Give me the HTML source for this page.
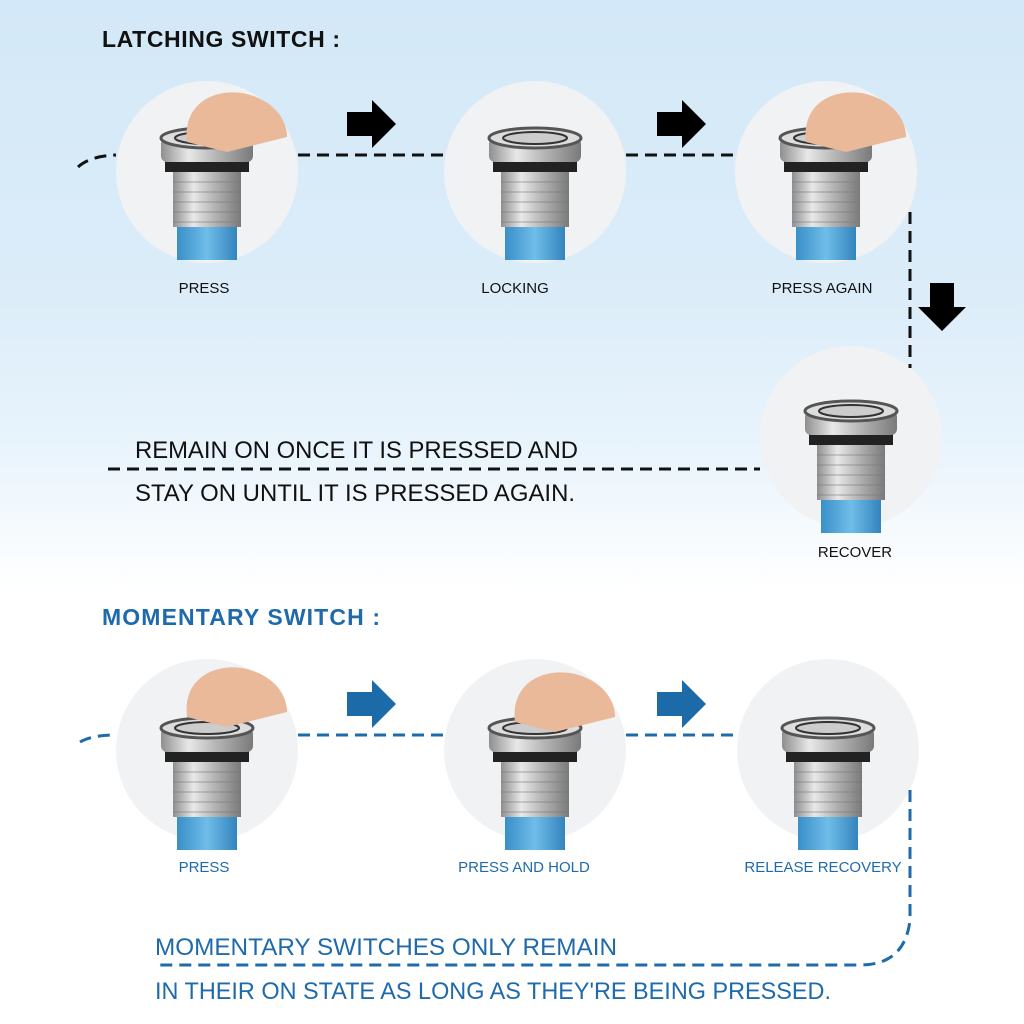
<!DOCTYPE html>
<html><head><meta charset="utf-8"><style>
html,body{margin:0;padding:0}
body{width:1024px;height:1024px;overflow:hidden;background:linear-gradient(#d3e8f8 0px,#dcedf9 300px,#e9f4fc 450px,#ffffff 590px,#ffffff 1024px);font-family:"Liberation Sans",sans-serif;position:relative}
svg{position:absolute;left:0;top:0}
</style></head><body>
<svg width="1024" height="1024" viewBox="0 0 1024 1024">
<defs>
<linearGradient id="metal" x1="0" x2="1"><stop offset="0" stop-color="#8f8f8f"/><stop offset=".3" stop-color="#e8e8e8"/><stop offset=".6" stop-color="#b5b5b5"/><stop offset="1" stop-color="#7a7a7a"/></linearGradient>
<linearGradient id="blue" x1="0" x2="1"><stop offset="0" stop-color="#3a8fc8"/><stop offset=".5" stop-color="#6fbde9"/><stop offset="1" stop-color="#3384bd"/></linearGradient>
<g id="sw">
<rect x="-30" y="40" width="60" height="38" fill="url(#blue)"/>
<rect x="-34" y="-10" width="68" height="55" fill="url(#metal)"/>
<g stroke="#777" stroke-width="1" opacity=".6"><line x1="-34" y1="0" x2="34" y2="0"/><line x1="-34" y1="10" x2="34" y2="10"/><line x1="-34" y1="20" x2="34" y2="20"/><line x1="-34" y1="30" x2="34" y2="30"/><line x1="-34" y1="40" x2="34" y2="40"/></g>
<rect x="-42" y="-22" width="84" height="12" fill="#222"/>
<rect x="-46" y="-44" width="92" height="24" rx="6" fill="url(#metal)"/>
<ellipse cx="0" cy="-44" rx="46" ry="10" fill="#ddd" stroke="#555" stroke-width="3"/>
<ellipse cx="0" cy="-44" rx="32" ry="6" fill="#ccc" stroke="#333" stroke-width="2"/>
</g>
<g id="finger"><path d="M-20,-40 C-25,-80 10,-95 40,-88 C70,-80 80,-60 80,-45 L20,-30 Z" fill="#e9b99a"/></g>
</defs>
<g fill="#f1f2f4">
<circle cx="207" cy="172" r="91"/><circle cx="535" cy="172" r="91"/><circle cx="826" cy="172" r="91"/><circle cx="851" cy="437" r="91"/>
<circle cx="207" cy="750" r="91"/><circle cx="535" cy="750" r="91"/><circle cx="828" cy="750" r="91"/>
</g>
<use href="#sw" x="207" y="182"/><use href="#finger" x="207" y="182"/>
<use href="#sw" x="535" y="182"/>
<use href="#sw" x="826" y="182"/><use href="#finger" x="826" y="182"/>
<use href="#sw" x="851" y="455"/>
<use href="#sw" x="207" y="772"/><use href="#finger" x="207" y="757"/>
<use href="#sw" x="535" y="772"/><use href="#finger" x="535" y="762"/>
<use href="#sw" x="828" y="772"/>
<g fill="none" stroke="#111" stroke-width="3" stroke-dasharray="12,7">
<path d="M78,167 Q90,156 116,155"/>
<line x1="298" y1="155" x2="444" y2="155"/>
<line x1="626" y1="155" x2="735" y2="155"/>
<line x1="910" y1="212" x2="910" y2="368"/>
<line x1="108" y1="469" x2="760" y2="469"/>
</g>
<g fill="none" stroke="#1f6aab" stroke-width="3" stroke-dasharray="12,7">
<path d="M80,742 Q92,735 116,735"/>
<line x1="298" y1="735" x2="444" y2="735"/>
<line x1="626" y1="735" x2="737" y2="735"/>
<path d="M910,790 L910,920 Q905,965 860,965 L160,965"/>
</g>
<g fill="#000">
<polygon points="347,112 372,112 372,100 396,124 372,148 372,136 347,136"/>
<polygon points="657,112 682,112 682,100 706,124 682,148 682,136 657,136"/>
<polygon points="930,283 954,283 954,307 966,307 942,331 918,307 930,307"/>
</g>
<g fill="#1d6aa8">
<polygon points="347,692 372,692 372,680 396,704 372,728 372,716 347,716"/>
<polygon points="657,692 682,692 682,680 706,704 682,728 682,716 657,716"/>
</g>
<g font-family="Liberation Sans, sans-serif">
<text x="102" y="47" font-size="23" font-weight="bold" fill="#111" textLength="238" lengthAdjust="spacing">LATCHING SWITCH :</text>
<text x="102" y="625" font-size="23" font-weight="bold" fill="#1f6aab" textLength="278" lengthAdjust="spacing">MOMENTARY SWITCH :</text>
<g font-size="15" fill="#111" text-anchor="middle">
<text x="204" y="293">PRESS</text><text x="515" y="293">LOCKING</text><text x="822" y="293">PRESS AGAIN</text><text x="855" y="557">RECOVER</text>
</g>
<g font-size="15" fill="#1f6aab" text-anchor="middle">
<text x="204" y="872">PRESS</text><text x="524" y="872">PRESS AND HOLD</text><text x="823" y="872">RELEASE RECOVERY</text>
</g>
<g font-size="24" fill="#111"><text x="135" y="458" textLength="443" lengthAdjust="spacingAndGlyphs">REMAIN ON ONCE IT IS PRESSED AND</text><text x="135" y="501" textLength="440" lengthAdjust="spacingAndGlyphs">STAY ON UNTIL IT IS PRESSED AGAIN.</text></g>
<g font-size="24" fill="#1f6aab"><text x="155" y="955" textLength="462" lengthAdjust="spacingAndGlyphs">MOMENTARY SWITCHES ONLY REMAIN</text><text x="155" y="999" textLength="676" lengthAdjust="spacingAndGlyphs">IN THEIR ON STATE AS LONG AS THEY'RE BEING PRESSED.</text></g>
</g>
</svg>
</body></html>
